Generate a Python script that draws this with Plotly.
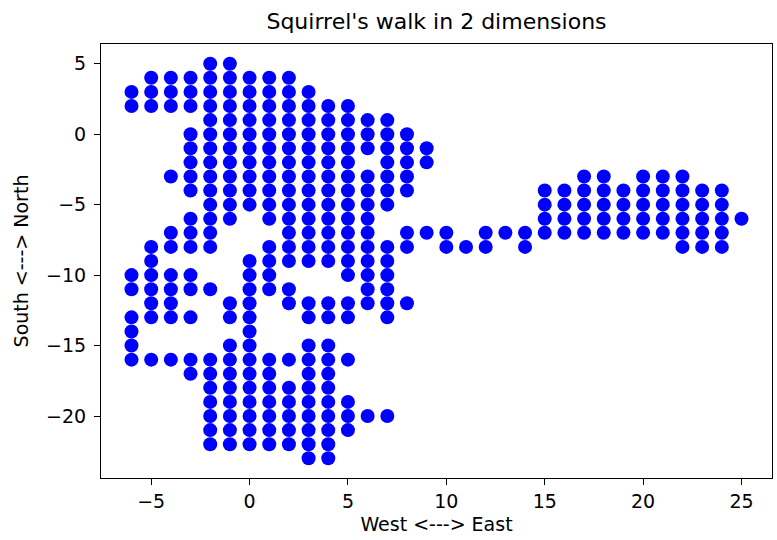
import plotly.graph_objects as go

# Grid columns (x) and the y values of the visited cells in each column
columns = [-6, -5, -4, -3, -2, -1, 0, 1, 2, 3, 4, 5, 6, 7, 8, 9, 10, 11, 12,
           13, 14, 15, 16, 17, 18, 19, 20, 21, 22, 23, 24, 25]

ys_by_column = [
    [3, 2, -10, -11, -13, -14, -15, -16],
    [4, 3, 2, -8, -9, -10, -11, -12, -13, -16],
    [4, 3, 2, -3, -7, -8, -10, -11, -12, -13, -16],
    [4, 3, 2, 0, -1, -2, -3, -4, -6, -7, -8, -10, -11, -13, -16, -17],
    [5, 4, 3, 2, 1, 0, -1, -2, -3, -4, -5, -6, -7, -8, -11,
     -16, -17, -18, -19, -20, -21, -22],
    [5, 4, 3, 2, 1, 0, -1, -2, -3, -4, -5, -6, -12, -13,
     -15, -16, -17, -18, -19, -20, -21, -22],
    [4, 3, 2, 1, 0, -1, -2, -3, -4, -5, -9, -10, -11, -12, -13, -14,
     -15, -16, -17, -18, -19, -20, -21, -22],
    [4, 3, 2, 1, 0, -1, -2, -3, -4, -5, -6, -8, -9, -10, -11,
     -16, -17, -18, -19, -20, -21, -22],
    [4, 3, 2, 1, 0, -1, -2, -3, -4, -5, -6, -7, -8, -9, -11, -12, -16,
     -18, -19, -20, -21, -22],
    [3, 2, 1, 0, -1, -2, -3, -4, -5, -6, -7, -8, -9, -12, -13,
     -15, -16, -17, -18, -19, -20, -21, -22, -23],
    [2, 1, 0, -1, -2, -3, -4, -5, -6, -7, -8, -9, -12, -13,
     -15, -16, -17, -18, -19, -20, -21, -22, -23],
    [2, 1, 0, -1, -2, -3, -4, -5, -6, -7, -8, -9, -10, -12, -13, -16,
     -19, -20, -21],
    [1, 0, -1, -3, -4, -5, -6, -7, -8, -9, -10, -11, -12, -20],
    [1, 0, -1, -2, -3, -4, -5, -8, -9, -10, -11, -12, -13, -20],
    [0, -1, -2, -3, -4, -7, -8, -12],
    [-1, -2, -7],
    [-7, -8],
    [-8],
    [-7, -8],
    [-7],
    [-7, -8],
    [-4, -5, -6, -7],
    [-4, -5, -6, -7],
    [-3, -4, -5, -6, -7],
    [-3, -4, -5, -6, -7],
    [-4, -5, -6, -7],
    [-3, -4, -5, -6, -7],
    [-3, -4, -5, -6, -7],
    [-3, -4, -5, -6, -7, -8],
    [-4, -5, -6, -7, -8],
    [-4, -5, -6, -7, -8],
    [-6],
]

x_ticks = [-5, 0, 5, 10, 15, 20, 25]
y_ticks = [5, 0, -5, -10, -15, -20]

xs, ys = [], []
for cx, col in zip(columns, ys_by_column):
    for cy in col:
        xs.append(cx)
        ys.append(cy)

fig = go.Figure(go.Scatter(
    x=xs, y=ys, mode="markers",
    marker=dict(color="#0000ff", size=14, line=dict(width=0)),
    showlegend=False,
))

font = "DejaVu Sans, sans-serif"
axis_common = dict(
    showgrid=False, zeroline=False, showline=True, linecolor="black",
    linewidth=1, mirror=True, ticks="outside", ticklen=6, tickcolor="black",
    automargin=False,
    tickfont=dict(family=font, size=19, color="black"),
)

fig.update_layout(
    width=777, height=540,
    margin=dict(l=101, r=5, t=44, b=62),
    paper_bgcolor="white", plot_bgcolor="white",
    title=dict(text="Squirrel's walk in 2 dimensions", xref="paper", x=0.5,
               xanchor="center", yref="container", y=1 - 21 / 540,
               yanchor="middle",
               font=dict(family=font, size=22, color="black")),
    xaxis=dict(range=[-7.55, 26.55], tickvals=x_ticks,
               title=dict(text="West <---> East", standoff=6,
                          font=dict(family=font, size=19, color="black")),
               **axis_common),
    yaxis=dict(range=[-24.4, 6.4], tickvals=y_ticks, ticklabelstandoff=4,
               title=dict(text="South <---> North", standoff=12,
                          font=dict(family=font, size=19, color="black")),
               **axis_common),
)

fig.write_html("out.html", config={"displayModeBar": False},
               post_script="document.body.style.margin='0';")
